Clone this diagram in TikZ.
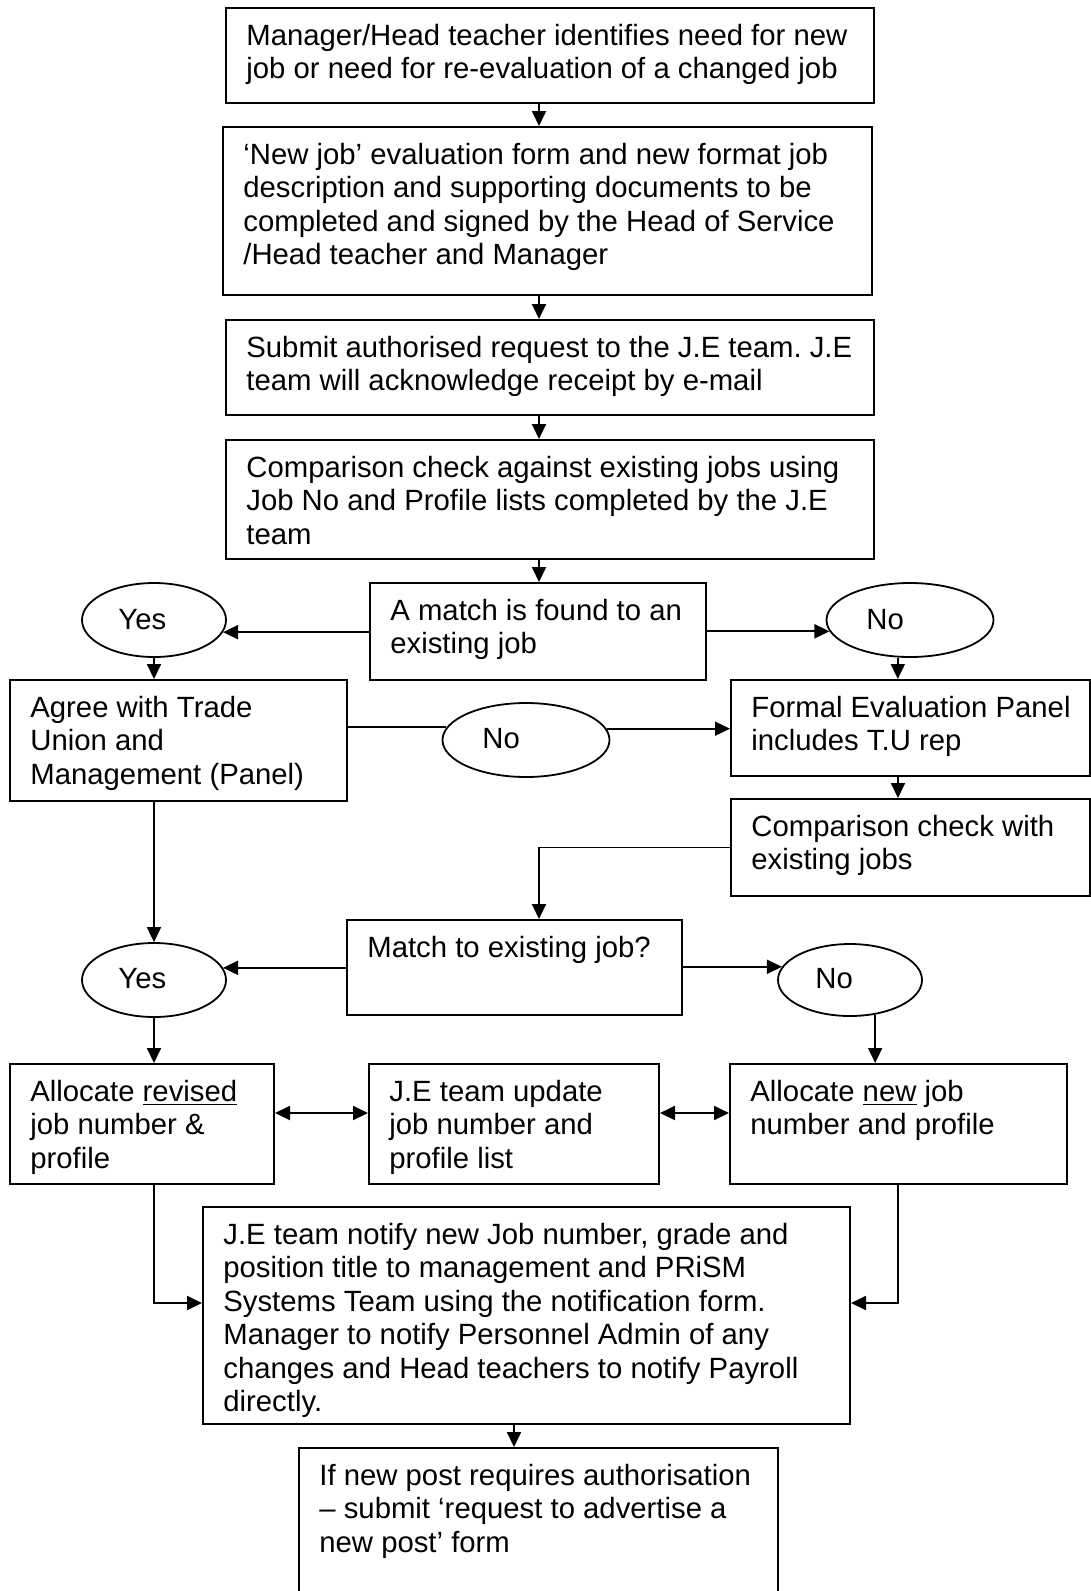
\documentclass[tikz,border=0pt]{standalone}
\usepackage{fontspec}
\setmainfont{Liberation Sans}
\usetikzlibrary{arrows.meta,fit,shapes.geometric}
\frenchspacing
\tikzset{
  px/.style={x=0.5pt,y=-0.5pt},
  boxst/.style={draw,line width=1pt,inner sep=0pt,rectangle},
  txt/.style={inner sep=0pt,align=left,anchor=north west,font=\fontsize{14.65pt}{16.75pt}\selectfont\frenchspacing},
  lbl/.style={inner sep=0pt,anchor=base west,font=\fontsize{14.65pt}{16.75pt}\selectfont},
  ell/.style={draw,line width=0.9pt,ellipse,inner sep=0pt,fill=white},
  arr/.style={line width=0.95pt,-{Triangle[length=7.5pt,width=7pt]}},
  darr/.style={line width=0.95pt,{Triangle[length=7.5pt,width=7pt]}-{Triangle[length=7.5pt,width=7pt]}},
  ln/.style={line width=0.95pt}
}
\newcommand\mybox[6]{%
  \node[boxst,fit={(#2,#3)(#4,#5)}] (#1) {};
  \node[txt] (#1-t) at ([xshift=10.5pt,yshift=-7.27pt]#1.north west) {\strut #6};
}
\begin{document}
\begin{tikzpicture}[px]
\useasboundingbox (0,0) rectangle (1091,1591);
\fill[white] (0,0) rectangle (1091,1591);
\coordinate (cM) at (539,0);
\coordinate (cR) at (898,0);
\coordinate (cD) at (0,1113);
\coordinate (cB) at (0,1303);
\coordinate (cF) at (514,0);

\mybox{b1}{226}{8}{874}{103}{Manager/Head teacher identifies need for new\\job or need for re-evaluation of a changed job}
\mybox{b2}{223}{127}{872}{295}{‘New job’ evaluation form and new format job\\description and supporting documents to be\\completed and signed by the Head of Service\\/Head teacher and Manager}
\mybox{b3}{226}{320}{874}{415}{Submit authorised request to the J.E team. J.E\\team will acknowledge receipt by e-mail}
\mybox{b4}{226}{440}{874}{559}{Comparison check against existing jobs using\\Job No and Profile lists completed by the J.E\\team}
\mybox{m1}{370}{583}{706}{680}{A match is found to an\\existing job}
\mybox{agree}{10}{680}{347}{801}{Agree with Trade\\Union and\\Management (Panel)}
\mybox{formal}{731}{680}{1090}{776}{Formal Evaluation Panel\\includes T.U rep}
\mybox{comp}{731}{799}{1090}{896}{Comparison check with\\existing jobs}
\mybox{m2}{347}{920}{682}{1015}{Match to existing job?}
\mybox{arev}{10}{1064}{274}{1184}{Allocate \underline{revised}\\job number \&\\profile}
\mybox{jeup}{369}{1064}{659}{1184}{J.E team update\\job number and\\profile list}
\mybox{anew}{730}{1064}{1067}{1184}{Allocate \underline{new} job\\number and profile}
\mybox{notify}{203}{1207}{850}{1424}{J.E team notify new Job number, grade and\\position title to management and PRiSM\\Systems Team using the notification form.\\Manager to notify Personnel Admin of any\\changes and Head teachers to notify Payroll\\directly.}
\mybox{final}{299}{1448}{778}{1660}{If new post requires authorisation\\– submit ‘request to advertise a\\new post’ form}

\node[ell,minimum width=72pt,minimum height=37pt] (yes1) at (154,620) {};
\node[lbl] (yes1-t) at (118,629) {Yes};
\node[ell,minimum width=83.5pt,minimum height=37pt] (no1) at (910,620) {};
\node[lbl] (no1-t) at (866,629) {No};
\node[ell,minimum width=83.5pt,minimum height=37pt] (nomid) at (526,740) {};
\node[lbl] (nomid-t) at (482,748) {No};
\node[ell,minimum width=72pt,minimum height=37pt] (yes2) at (154,980) {};
\node[lbl] (yes2-t) at (118,988) {Yes};
\node[ell,minimum width=72pt,minimum height=36pt] (no2) at (850,980) {};
\node[lbl] (no2-t) at (815,988) {No};

% main column
\draw[arr] (b1.south -| cM) -- (b2.north -| cM);
\draw[arr] (b2.south -| cM) -- (b3.north -| cM);
\draw[arr] (b3.south -| cM) -- (b4.north -| cM);
\draw[arr] (b4.south -| cM) -- (m1.north -| cM);
% first decision
\draw[arr] (m1.west |- yes1.-10) -- (yes1.-10);
\draw[arr] (m1.east |- no1.188.7) -- (no1.188.7);
\draw[arr] (yes1.south) -- (yes1.south |- agree.north);
\draw[arr] (no1.-108.2) -- (no1.-108.2 |- formal.north);
\draw[ln] (agree.east |- nomid.171.3) -- (nomid.171.3);
\draw[arr] (nomid.8.7) -- (formal.west |- nomid.8.7);
\draw[arr] (formal.south -| cR) -- (comp.north -| cR);
\draw[arr] (comp.west) -| (m2.north -| cM);
\draw[arr] (yes2.north |- agree.south) -- (yes2.north);
% second decision
\draw[arr] (m2.west |- yes2.10.9) -- (yes2.10.9);
\draw[arr] (m2.east |- no2.169) -- (no2.169);
\draw[arr] (yes2.south) -- (yes2.south |- arev.north);
\draw[arr] (no2.-54.7) -- (no2.-54.7 |- anew.north);
\draw[darr] (arev.east |- cD) -- (jeup.west |- cD);
\draw[darr] (jeup.east |- cD) -- (anew.west |- cD);
\draw[arr] (yes2.south |- arev.south) |- (notify.west |- cB);
\draw[arr] (anew.south -| cR) |- (notify.east |- cB);
\draw[arr] (notify.south -| cF) -- (final.north -| cF);
\end{tikzpicture}
\end{document}
